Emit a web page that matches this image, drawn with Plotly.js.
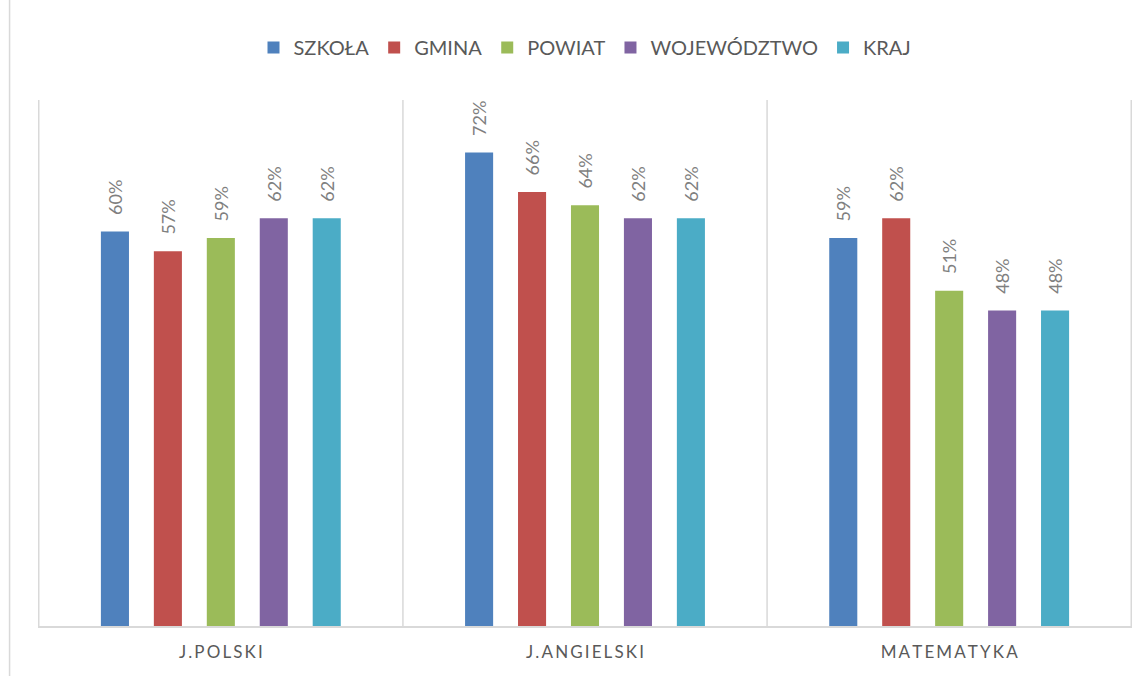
<!DOCTYPE html>
<html>
<head>
<meta charset="utf-8">
<script src="https://cdn.plot.ly/plotly-3.0.1.min.js"></script>
<style>
html,body{margin:0;padding:0;background:#fff;}
#chart{width:1148px;height:676px;}
</style>
</head>
<body>
<div id="chart"></div>
<script>
const categories = ["J.POLSKI", "J.ANGIELSKI", "MATEMATYKA"];
const seriesNames = ["SZKOŁA", "GMINA", "POWIAT", "WOJEWÓDZTWO", "KRAJ"];
const szkola = [0.60, 0.72, 0.59];
const gmina = [0.57, 0.66, 0.62];
const powiat = [0.59, 0.64, 0.51];
const wojewodztwo = [0.62, 0.62, 0.48];
const kraj = [0.62, 0.62, 0.48];
const colors = ["#4F81BD", "#C0504D", "#9BBB59", "#8064A2", "#4BACC6"];

const spaced = s => s.split("").join("\u2009");
const values = [szkola, gmina, powiat, wojewodztwo, kraj];
const font = "Lato, 'Noto Sans', sans-serif";

const traces = values.map((v, i) => ({
  type: "bar",
  name: seriesNames[i],
  x: categories,
  y: v,
  marker: {color: colors[i]},
  texttemplate: "\u2002\u00A0%{y:.0%}",
  textposition: "outside",
  textangle: -90,
  constraintext: "none",
  textfont: {family: font, size: 18, color: "#7F7F7F"},
  cliponaxis: false,
  hoverinfo: "skip"
}));

const lineColor = "#D9D9D9";
const shapes = [];
[-0.5, 0.5, 1.5, 2.5].forEach(xv => {
  shapes.push({type: "line", xref: "x", yref: "y", x0: xv, x1: xv, y0: 0, y1: 0.8,
    line: {color: lineColor, width: 1.5}});
});
shapes.push({type: "line", xref: "paper", yref: "paper", x0: -0.026, x1: -0.026, y0: -0.2, y1: 1.3,
  line: {color: lineColor, width: 1.5}});

const layout = {
  width: 1148, height: 676,
  margin: {l: 38, r: 16, t: 100, b: 50},
  paper_bgcolor: "#fff", plot_bgcolor: "#fff",
  barmode: "group",
  bargap: 0.273,
  bargroupgap: 0.47,
  showlegend: true,
  legend: {orientation: "h", x: 0.5, xanchor: "center", y: 1.10, yanchor: "middle",
    font: {family: font, size: 20, color: "#595959"},
    itemwidth: 30, traceorder: "normal"},
  xaxis: {
    tickmode: "array", tickvals: categories, ticktext: categories.map(spaced),
    tickfont: {family: font, size: 17, color: "#595959"},
    showline: true, linecolor: lineColor, linewidth: 2,
    ticks: "", showgrid: false, zeroline: false, ticklabelstandoff: 10
  },
  yaxis: {range: [0, 0.8], visible: false, showgrid: false, zeroline: false, fixedrange: true},
  shapes: shapes
};

Plotly.newPlot("chart", traces, layout, {displayModeBar: false, staticPlot: true});
</script>
</body>
</html>
